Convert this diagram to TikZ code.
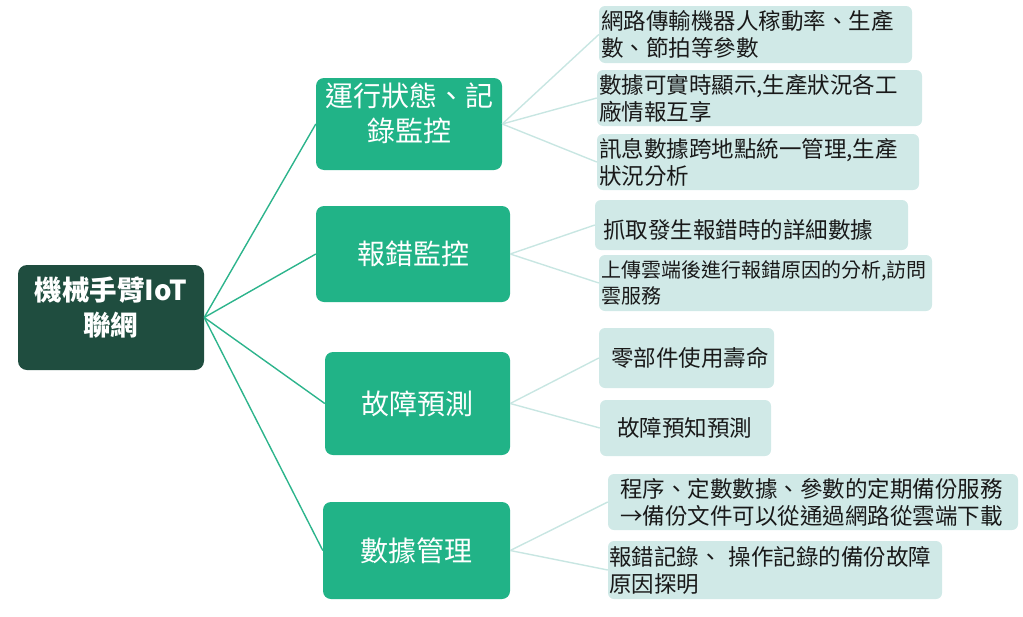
\documentclass[tikz,border=0pt]{standalone}
\usepackage{fontspec}
\setmainfont{Noto Sans CJK TC}
\definecolor{rootc}{RGB}{31,77,63}
\definecolor{midc}{RGB}{33,179,135}
\definecolor{leafc}{RGB}{208,233,231}
\definecolor{rootline}{RGB}{45,180,140}
\definecolor{leafline}{RGB}{200,230,226}
\definecolor{leaftext}{RGB}{25,25,25}
\tikzset{
  rootbox/.style={fill=rootc, rounded corners=9pt, minimum width=186pt, minimum height=105pt, text=white, align=center, font=\fontsize{27.5}{35}\selectfont\bfseries, inner sep=0pt},
  midbox/.style n args={2}{fill=midc, rounded corners=8pt, minimum width=#1, minimum height=#2, text=white, align=center, font=\fontsize{28}{35}\selectfont, inner sep=0pt},
  leafbox/.style n args={3}{fill=leafc, rounded corners=6pt, minimum width=#1, minimum height=#2, text width=#1-2*#3, inner xsep=#3, inner ysep=0pt, align=left, text=leaftext, font=\fontsize{22.5}{27}\selectfont},
  rootedge/.style={draw=rootline, line width=1.4pt},
  leafedge/.style={draw=leafline, line width=1.4pt}
}
\begin{document}
\begin{tikzpicture}[x=1pt,y=-1pt]
\useasboundingbox (0,0) rectangle (1023,616);
\node[rootbox] (root) at (111,317.5) {機械手臂IoT\\聯網\\[-12pt]\mbox{}};
\node[midbox={186pt}{92pt}] (m1) at (409,124) {運行狀態、記\\錄監控\\[-12pt]\mbox{}};
\node[midbox={194pt}{96pt}] (m2) at (413,254) {報錯監控};
\node[midbox={185pt}{103pt}] (m3) at (417.5,403.5) {故障預測};
\node[midbox={187pt}{97pt}] (m4) at (416.5,550.5) {數據管理};
\node[leafbox={313pt}{57pt}{2pt}] (a) at (755.5,34.5) {網路傳輸機器人稼動率、生產\\數、節拍等參數};
\node[leafbox={325pt}{56pt}{2pt}] (b) at (759.5,98) {數據可實時顯示,生產狀況各工\\廠情報互享};
\node[leafbox={322pt}{56pt}{2pt}] (c) at (758,162) {訊息數據跨地點統一管理,生產\\狀況分析};
\node[leafbox={313pt}{50pt}{8pt}, text height=30pt, text depth=4pt] (d) at (751.5,225) {抓取發生報錯時的詳細數據};
\node[leafbox={333pt}{56pt}{2pt}, font=\fontsize{20}{26}\selectfont] (e) at (765.5,283) {上傳雲端後進行報錯原因的分析,訪問\\雲服務};
\node[leafbox={175pt}{60pt}{12pt}] (f) at (686.5,358) {零部件使用壽命};
\node[leafbox={171pt}{56pt}{17pt}] (g) at (685.5,428) {故障預知預測};
\node[leafbox={410pt}{56pt}{12pt}] (h) at (813,502) {程序、定數數據、參數的定期備份服務\\→備份文件可以從通過網路從雲端下載};
\node[leafbox={334pt}{58pt}{1pt}] (i) at (775,570) {報錯記錄、 操作記錄的備份故障\\原因探明};
\foreach \m in {m1,m2,m3,m4} \draw[rootedge] (root.east) -- (\m.west);
\draw[leafedge] (m1.east) -- (a.west);
\draw[leafedge] (m1.east) -- (b.west);
\draw[leafedge] (m1.east) -- (c.west);
\draw[leafedge] (m2.east) -- (d.west);
\draw[leafedge] (m2.east) -- (e.west);
\draw[leafedge] (m3.east) -- (f.west);
\draw[leafedge] (m3.east) -- (g.west);
\draw[leafedge] (m4.east) -- (h.west);
\draw[leafedge] (m4.east) -- (i.west);
\end{tikzpicture}
\end{document}
